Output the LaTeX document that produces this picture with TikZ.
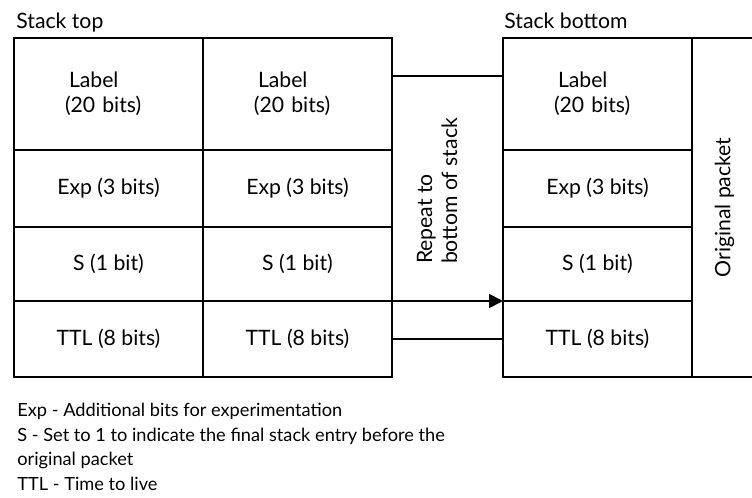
\documentclass[tikz,border=0pt]{standalone}
\usepackage{fontspec}
\setmainfont{Lato}
\usetikzlibrary{arrows.meta,positioning,calc}

\tikzset{
    cell/.style={draw, line width=0.9pt, inner sep=0pt, outer sep=0pt,
        minimum width=94.5pt, align=center},
    labelcell/.style={cell, minimum height=56pt, text width=43.5pt, align=left},
    conn/.style={line width=0.9pt}
}

\begin{document}
\begin{tikzpicture}[x=0.5pt, y=-0.5pt, font=\fontsize{10.6}{12.5}\selectfont]
    \useasboundingbox (0,0) rectangle (752,498);
    \clip (0,0) rectangle (752,498);

    % Label stacks
    \foreach \c/\x in {a/14, b/203, c/503} {
        \node[labelcell, anchor=north west] (l\c) at (\x,38) {\hspace*{2pt}Label\\(20 bits)};
        \node[cell, minimum height=38.5pt, below=0pt of l\c] (e\c) {Exp (3 bits)};
        \node[cell, minimum height=37pt, below=0pt of e\c] (s\c) {S (1 bit)};
        \node[cell, minimum height=38pt, below=0pt of s\c] (t\c) {TTL (8 bits)};
    }

    % Original packet
    \node[cell, rotate=90, minimum width=169.5pt, minimum height=32.5pt,
        anchor=north east] (orig) at (lc.north east) {Original packet};

    % Stack labels
    \node[anchor=base west, inner sep=0pt, xshift=1pt, yshift=5pt] (stop) at (la.north west) {Stack top};
    \node[anchor=base west, inner sep=0pt, xshift=0.5pt, yshift=5pt] (sbot) at (lc.north west) {Stack bottom};

    % Repeat to bottom of stack
    \coordinate (ra) at ($(lb.north east)!0.34!(lb.south east)$);
    \coordinate (rb) at ($(lc.north west)!0.34!(lc.south west)$);
    \draw[conn] (ra) -- (rb);
    \draw[conn, -{Triangle[length=7pt, width=7pt]}] (sb.south east) -- (sc.south west);
    \draw[conn] (tb) -- (tc);
    \node[rotate=90, align=left] (rep) at (437,191) {Repeat to\\bottom of stack};

    % Legend
    \node[anchor=north west, align=left, inner sep=0pt,
        font=\fontsize{9.1}{12.25}\selectfont] (legend) at (17,403)
        {Exp - Additional bits for experimentation\\
         S - Set to 1 to indicate the final stack entry before the\\
         original packet\\
         TTL - Time to live};
\end{tikzpicture}
\end{document}
